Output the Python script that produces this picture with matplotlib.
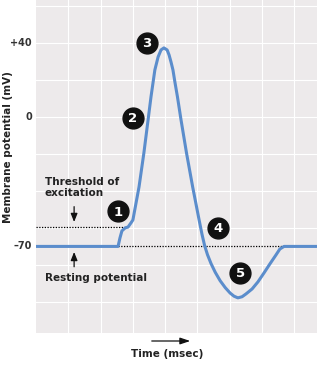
import matplotlib.pyplot as plt
import numpy as np

# action potential trace (x in grid units, y in mV)
time = [0.0, 2.54, 2.60, 2.66, 2.76, 2.85, 2.94, 3.00, 3.19, 3.34, 3.47,
        3.56, 3.68, 3.78, 3.87, 3.96, 4.06, 4.12, 4.18, 4.24, 4.30, 4.38,
        4.49, 4.66, 4.85, 5.05, 5.14, 5.22, 5.31, 5.42, 5.55, 5.70, 5.86,
        6.01, 6.13, 6.25, 6.38, 6.50, 6.69, 6.87, 7.06, 7.24, 7.43, 7.55,
        7.68, 7.80, 8.70]
potential = [-70, -70, -65.4, -61.6, -60, -59.5, -57.3, -55.7, -37.8, -19.5, -1.6,
             10.8, 25.4, 32.4, 36.2, 37.3, 36.2, 33.5, 29.7, 25.4, 18.9, 10.8,
             -1.6, -19.5, -37.8, -55.7, -63.5, -69.5, -74.5, -79.3, -84, -88.5, -92.3,
             -95.2, -96.9, -97.8, -97.2, -95.7, -93, -89.2, -84.3, -79.5, -74.6, -71.4,
             -70, -70, -70]

tick_vals = [40, 0, -70]
tick_text = ["+40", "0", "\u201370"]

steps = ["1", "2", "3", "4", "5"]
step_x = [2.54, 3.0, 3.44, 5.63, 6.32]
step_y = [-51, -0.5, 40, -60, -84.3]

rest = -70
threshold = -59.5

fig = plt.figure(figsize=(3.17, 3.71), dpi=100)
ax = fig.add_axes([36/317, 38/371, 281/317, 333/371])
ax.set_facecolor("#edeaeb")
ax.set_xlim(0, 8.70)
ax.set_ylim(-116.8, 63.2)
for s in ax.spines.values():
    s.set_visible(False)
ax.set_xticks(np.arange(1, 9))
ax.set_yticks(np.arange(-100, 61, 20))
ax.grid(True, color="white", linewidth=0.8)
ax.tick_params(length=0, labelleft=False, labelbottom=False)
ax.set_axisbelow(True)

# dotted reference lines
ax.plot([0, 2.85], [threshold, threshold], color="black", linestyle=(0, (1, 1.2)), linewidth=0.9)
ax.plot([2.54, 7.68], [rest, rest], color="black", linestyle=(0, (1, 1.2)), linewidth=0.9)

ax.plot(time, potential, color="#5b8dcc", linewidth=2.2, solid_joinstyle="round",
        solid_capstyle="round", zorder=3)

# numbered markers
for lab, x, y in zip(steps, step_x, step_y):
    ax.plot(x, y, "o", markersize=15, color="#111111", zorder=4)
    ax.text(x, y - 0.5, lab, color="white", fontsize=9.5, fontweight="bold",
            ha="center", va="center", zorder=5)

# y tick labels
for v, t in zip(tick_vals, tick_text):
    ax.text(-0.12, v, t, ha="right", va="center", fontsize=7, fontweight="bold",
            color="#333333", clip_on=False)

fig.text(8/317, 1 - 147/371, "Membrane potential (mV)", rotation=90, ha="center",
         va="center", fontsize=7.5, fontweight="bold", color="#222222")

ax.text(0.27, -38, "Threshold of\nexcitation", fontsize=7.5, fontweight="bold",
        color="#222222", ha="left", va="center", linespacing=1.1)
ax.annotate("", xy=(1.18, -58.3), xytext=(1.18, -47),
            arrowprops=dict(arrowstyle="-|>,head_width=0.2,head_length=0.5",
                            color="#111111", lw=0.9))
ax.text(0.27, -87, "Resting potential", fontsize=7.5, fontweight="bold",
        color="#222222", ha="left", va="center")
ax.annotate("", xy=(1.18, -71.5), xytext=(1.18, -82.5),
            arrowprops=dict(arrowstyle="-|>,head_width=0.2,head_length=0.5",
                            color="#111111", lw=0.9))

fig.text(167/317, 1 - 354/371, "Time (msec)", ha="center", va="center",
         fontsize=7.5, fontweight="bold", color="#222222")
fig.add_artist(plt.matplotlib.patches.FancyArrowPatch(
    (149/317, 1 - 341/371), (193/317, 1 - 341/371), transform=fig.transFigure,
    arrowstyle="-|>,head_width=2,head_length=6", color="#111111", lw=0.9))

fig.savefig("out.png", dpi=100)
